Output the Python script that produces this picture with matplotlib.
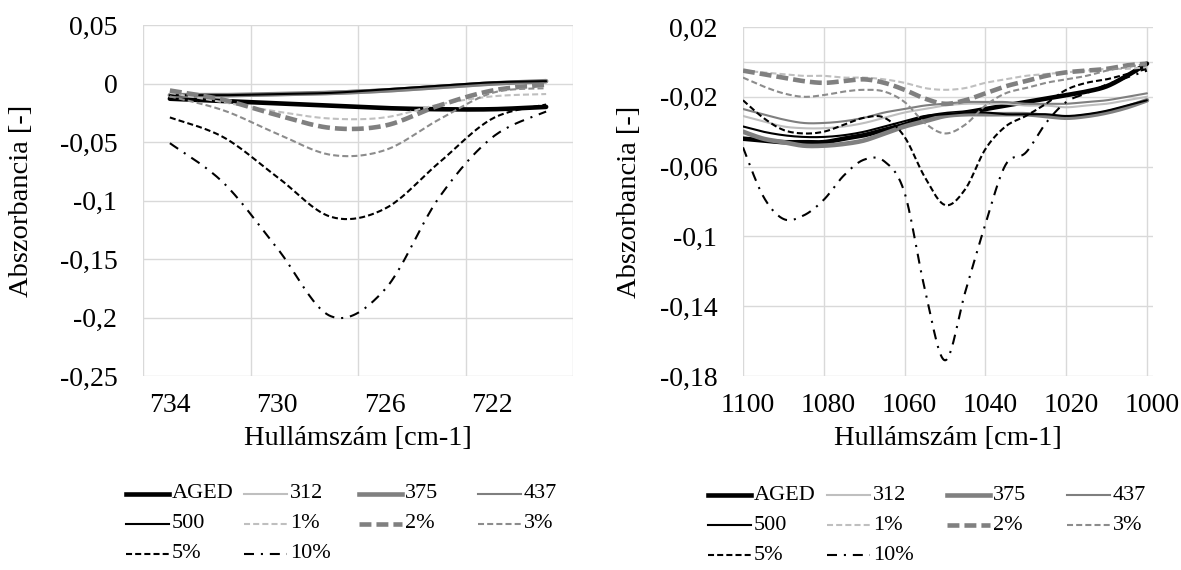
import numpy as np
import matplotlib
matplotlib.use("Agg")
import matplotlib.pyplot as plt
from matplotlib.lines import Line2D
from matplotlib.ticker import FixedLocator, FixedFormatter, FuncFormatter

plt.rcParams["font.family"] = ["Liberation Serif", "DejaVu Serif"]

series_names = ["AGED", "312", "375", "437", "500", "1%", "2%", "3%", "5%", "10%"]

# ---- left panel, 734-720 cm-1 ----
wn_left = [734, 732, 730, 728, 726, 724, 722, 720]
left_aged = [-0.013, -0.015, -0.017, -0.019, -0.021, -0.022, -0.022, -0.020]
left_312 = [-0.011, -0.011, -0.010, -0.009, -0.007, -0.004, -0.001, 0.001]
left_375 = [-0.010, -0.010, -0.009, -0.008, -0.006, -0.003, 0.000, 0.002]
left_437 = [-0.010, -0.010, -0.009, -0.007, -0.005, -0.002, 0.001, 0.002]
left_500 = [-0.010, -0.010, -0.009, -0.008, -0.005, -0.002, 0.001, 0.002]
left_1 = [-0.008, -0.016, -0.024, -0.030, -0.029, -0.018, -0.011, -0.009]
left_2 = [-0.006, -0.014, -0.027, -0.038, -0.036, -0.019, -0.006, -0.001]
left_3 = [-0.011, -0.023, -0.043, -0.061, -0.057, -0.031, -0.008, -0.004]
left_5 = [-0.029, -0.046, -0.080, -0.114, -0.107, -0.068, -0.030, -0.018]
left_10 = [-0.051, -0.085, -0.141, -0.199, -0.176, -0.098, -0.046, -0.024]

# ---- right panel, 1100-1000 cm-1 ----
wn_right = [1100, 1095, 1090, 1085, 1080, 1075, 1070, 1065, 1060, 1055, 1050,
            1045, 1040, 1035, 1030, 1025, 1020, 1015, 1010, 1005, 1000]
right_aged = [-0.044, -0.045, -0.046, -0.046, -0.046, -0.044, -0.042, -0.039, -0.036, -0.032, -0.030,
              -0.029, -0.027, -0.025, -0.023, -0.021, -0.019, -0.017, -0.014, -0.008, -0.001]
right_312 = [-0.031, -0.034, -0.037, -0.038, -0.038, -0.037, -0.035, -0.032, -0.029, -0.027, -0.025,
             -0.024, -0.024, -0.024, -0.025, -0.025, -0.026, -0.025, -0.024, -0.022, -0.020]
right_375 = [-0.040, -0.044, -0.046, -0.048, -0.048, -0.047, -0.045, -0.041, -0.037, -0.034, -0.031,
             -0.030, -0.030, -0.030, -0.030, -0.031, -0.032, -0.031, -0.029, -0.026, -0.022]
right_437 = [-0.027, -0.030, -0.033, -0.035, -0.035, -0.034, -0.032, -0.029, -0.027, -0.025, -0.024,
             -0.023, -0.023, -0.023, -0.024, -0.024, -0.024, -0.023, -0.022, -0.020, -0.018]
right_500 = [-0.037, -0.040, -0.042, -0.043, -0.043, -0.042, -0.040, -0.037, -0.034, -0.031, -0.030,
             -0.029, -0.029, -0.030, -0.030, -0.030, -0.031, -0.030, -0.028, -0.025, -0.022]
right_1 = [-0.005, -0.006, -0.007, -0.008, -0.008, -0.009, -0.009, -0.010, -0.012, -0.015, -0.016,
           -0.015, -0.012, -0.010, -0.008, -0.007, -0.006, -0.005, -0.004, -0.004, -0.003]
right_2 = [-0.005, -0.007, -0.009, -0.011, -0.012, -0.011, -0.010, -0.012, -0.016, -0.021, -0.024,
           -0.022, -0.018, -0.014, -0.011, -0.008, -0.006, -0.005, -0.004, -0.002, -0.001]
right_3 = [-0.009, -0.014, -0.018, -0.020, -0.019, -0.017, -0.016, -0.017, -0.023, -0.035, -0.041,
           -0.036, -0.025, -0.018, -0.015, -0.012, -0.010, -0.008, -0.005, -0.003, -0.001]
right_5 = [-0.022, -0.032, -0.039, -0.041, -0.040, -0.036, -0.032, -0.032, -0.043, -0.066, -0.082,
           -0.073, -0.050, -0.037, -0.031, -0.024, -0.016, -0.012, -0.010, -0.007, -0.004]
right_10 = [-0.049, -0.077, -0.090, -0.088, -0.079, -0.065, -0.056, -0.057, -0.075, -0.130, -0.171,
            -0.132, -0.093, -0.059, -0.052, -0.035, -0.023, -0.018, -0.013, -0.009, -0.005]

left_data = dict(zip(series_names, [left_aged, left_312, left_375, left_437, left_500,
                                    left_1, left_2, left_3, left_5, left_10]))
right_data = dict(zip(series_names, [right_aged, right_312, right_375, right_437, right_500,
                                     right_1, right_2, right_3, right_5, right_10]))

# line styles (colour, width in pt, dash pattern in linewidth units)
styles = {
    "AGED": dict(color="#000000", lw=3.3, dashes=None),
    "312": dict(color="#bfbfbf", lw=1.5, dashes=None),
    "375": dict(color="#808080", lw=3.3, dashes=None),
    "437": dict(color="#7f7f7f", lw=1.5, dashes=None),
    "500": dict(color="#000000", lw=1.5, dashes=None),
    "1%": dict(color="#bfbfbf", lw=1.5, dashes=(2.9, 1.5)),
    "2%": dict(color="#808080", lw=3.3, dashes=(2.6, 1.1)),
    "3%": dict(color="#8c8c8c", lw=1.5, dashes=(2.9, 1.5)),
    "5%": dict(color="#000000", lw=1.5, dashes=(2.9, 1.5)),
    "10%": dict(color="#000000", lw=1.5, dashes=(4.8, 3.3, 1.0, 3.3)),
}

GRID = "#d9d9d9"
W, H = 1181, 570


def excel_smooth(x, y, steps=24):
    # Bezier smoothing like Excel's "smoothed line" (Catmull-Rom style)
    p = np.column_stack([np.asarray(x, float), np.asarray(y, float)])
    n = len(p)
    t = np.linspace(0, 1, steps, endpoint=False)[:, None]
    out = []
    for i in range(n - 1):
        p0 = p[i - 1] if i > 0 else p[i]
        p1, p2 = p[i], p[i + 1]
        p3 = p[i + 2] if i + 2 < n else p[i + 1]
        b1 = p1 + (p2 - p0) / 6
        b2 = p2 - (p3 - p1) / 6
        seg = ((1 - t) ** 3) * p1 + 3 * ((1 - t) ** 2) * t * b1 + 3 * (1 - t) * t ** 2 * b2 + t ** 3 * p2
        out.append(seg)
    out.append(p[-1][None, :])
    out = np.vstack(out)
    return out[:, 0], out[:, 1]


def comma(v, pos=None):
    s = "%g" % round(v, 4)
    return s.replace(".", ",")


def draw_series(ax, wn, data):
    for name in series_names:
        st = styles[name]
        xs, ys = excel_smooth(wn, data[name])
        kw = dict(color=st["color"], lw=st["lw"], solid_capstyle="round")
        if st["dashes"] is not None:
            kw["dashes"] = st["dashes"]
        ax.plot(xs, ys, **kw)


def style_axes(ax):
    for sp in ax.spines.values():
        sp.set_visible(False)
    ax.set_axisbelow(True)
    ax.grid(True, which="minor", axis="x", color=GRID, lw=1.0)
    ax.grid(True, which="major", axis="y", color=GRID, lw=1.0)
    ax.tick_params(which="both", length=0, labelsize=20)
    ax.tick_params(axis="x", pad=12)
    ax.tick_params(axis="y", pad=18.5)
    ax.set_xlabel("Hullámszám [cm-1]", fontsize=20.5)
    ax.set_ylabel("Abszorbancia [-]", fontsize=20.5)


def draw_legend(col_px, row_px):
    for i, name in enumerate(series_names):
        r, c = divmod(i, 4)
        st = styles[name]
        x0 = col_px[c]
        y = 1 - row_px[r] / H
        kw = dict(color=st["color"], lw=st["lw"], transform=fig.transFigure)
        if st["dashes"] is not None:
            kw["dashes"] = st["dashes"]
        fig.add_artist(Line2D([x0 / W, (x0 + 43) / W], [y, y], **kw))
        fig.text((x0 + 46) / W, y, name, fontsize=16, va="center", ha="left")


fig = plt.figure(figsize=(W / 100, H / 100), dpi=100)

# left panel
ax1 = fig.add_axes([143 / W, 1 - 376 / H, 430 / W, 351 / H])
draw_series(ax1, wn_left, left_data)
ax1.set_xlim(735, 719)
ax1.set_ylim(-0.25, 0.05)
ax1.xaxis.set_major_locator(FixedLocator([734, 730, 726, 722]))
ax1.xaxis.set_minor_locator(FixedLocator([735, 731, 727, 723, 719]))
ax1.yaxis.set_major_locator(FixedLocator([0.05, 0, -0.05, -0.1, -0.15, -0.2, -0.25]))
ax1.yaxis.set_major_formatter(FuncFormatter(comma))
style_axes(ax1)
ax1.yaxis.set_label_coords(-0.2535, 0.5)
ax1.xaxis.set_label_coords(0.5, -0.142)

# right panel
ax2 = fig.add_axes([743 / W, 1 - 376 / H, 410 / W, 349 / H])
ax2.axhline(0, color=GRID, lw=1.0, zorder=0.5)
draw_series(ax2, wn_right, right_data)
ax2.set_xlim(1100, 998.5)
ax2.set_ylim(-0.18, 0.02)
ax2.xaxis.set_major_locator(FixedLocator([1098.8, 1078.8, 1058.8, 1038.8, 1018.8, 998.8]))
ax2.xaxis.set_major_formatter(FixedFormatter(["1100", "1080", "1060", "1040", "1020", "1000"]))
ax2.xaxis.set_minor_locator(FixedLocator([1100, 1080, 1060, 1040, 1020, 1000]))
ax2.yaxis.set_major_locator(FixedLocator([0.02, -0.02, -0.06, -0.1, -0.14, -0.18]))
ax2.yaxis.set_major_formatter(FuncFormatter(comma))
style_axes(ax2)
ax2.yaxis.set_label_coords(-0.246, 0.5)
ax2.xaxis.set_label_coords(0.5, -0.143)

draw_legend([126, 244, 359, 478], [494, 524, 554])
draw_legend([708, 827, 947, 1067], [495, 525, 555])

fig.savefig("out.png", dpi=100)
